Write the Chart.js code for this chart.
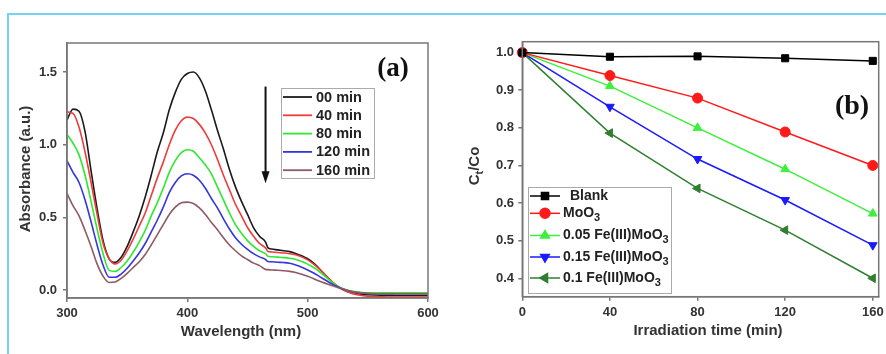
<!DOCTYPE html>
<html>
<head>
<meta charset="utf-8">
<script src="https://cdn.jsdelivr.net/npm/chart.js@4.4.1/dist/chart.umd.min.js"></script>
<style>
  html, body { margin: 0; padding: 0; background: #fff; }
  #wrap { position: relative; width: 886px; height: 354px; overflow: hidden; }
  #frame { position: absolute; left: 7px; top: 13px; width: 900px; height: 400px;
           border-top: 2px solid #74d3f3; border-left: 2px solid #74d3f3; }
  canvas { position: absolute; top: 0; }
  #chartA { left: 0; }
  #chartB { left: 443px; }
</style>
</head>
<body>
<div id="wrap">
  <div id="frame"></div>
  <canvas id="chartA" width="443" height="354"></canvas>
  <canvas id="chartB" width="443" height="354"></canvas>
</div>
<script>
// ---- panel (a): UV-vis spectra ----
const wavelength = [300,305,310,315,320,325,330,335,340,345,350,355,360,365,370,375,380,385,390,395,
  400,405,410,415,420,425,430,435,440,445,450,455,460,465,467,470,475,480,485,490,495,500,505,510,
  515,520,525,530,535,540,545,550,560,570,580,590,600];

const abs00 = [1.17,1.245,1.23,1.09,0.82,0.56,0.34,0.215,0.19,0.225,0.30,0.40,0.51,0.64,0.79,0.95,1.08,1.24,1.36,1.45,
  1.49,1.50,1.46,1.37,1.24,1.10,0.97,0.83,0.71,0.61,0.52,0.43,0.37,0.33,0.29,0.282,0.276,0.27,0.264,0.252,0.236,0.215,0.185,0.145,
  0.10,0.058,0.022,0.0,-0.015,-0.024,-0.03,-0.033,-0.036,-0.037,-0.038,-0.038,-0.038];
const abs40 = [1.225,1.215,1.12,0.95,0.74,0.52,0.32,0.215,0.18,0.205,0.27,0.35,0.44,0.53,0.65,0.77,0.88,1.00,1.10,1.165,
  1.19,1.18,1.14,1.08,1.00,0.90,0.79,0.69,0.59,0.51,0.43,0.37,0.32,0.29,0.265,0.262,0.258,0.255,0.25,0.242,0.228,0.207,0.178,0.142,
  0.10,0.06,0.025,0.0,-0.018,-0.03,-0.038,-0.043,-0.046,-0.048,-0.048,-0.048,-0.048];
const abs80 = [1.07,1.01,0.93,0.79,0.61,0.42,0.25,0.135,0.128,0.155,0.20,0.26,0.33,0.41,0.51,0.60,0.70,0.81,0.89,0.945,
  0.965,0.955,0.91,0.86,0.80,0.71,0.62,0.53,0.45,0.39,0.34,0.30,0.27,0.25,0.232,0.229,0.226,0.223,0.218,0.21,0.196,0.178,0.155,0.125,
  0.09,0.056,0.026,0.006,-0.006,-0.013,-0.017,-0.019,-0.02,-0.02,-0.02,-0.02,-0.02];
const abs120 = [0.89,0.81,0.74,0.62,0.47,0.31,0.17,0.088,0.088,0.11,0.15,0.20,0.255,0.32,0.40,0.48,0.57,0.67,0.74,0.785,
  0.80,0.79,0.755,0.70,0.63,0.565,0.49,0.42,0.36,0.315,0.28,0.25,0.228,0.21,0.196,0.194,0.191,0.189,0.184,0.172,0.157,0.138,0.117,0.092,
  0.067,0.042,0.022,0.005,-0.008,-0.016,-0.021,-0.024,-0.026,-0.026,-0.026,-0.026,-0.026];
const abs160 = [0.665,0.58,0.51,0.41,0.30,0.18,0.095,0.052,0.055,0.08,0.115,0.155,0.195,0.245,0.31,0.38,0.45,0.52,0.57,0.60,
  0.605,0.595,0.565,0.52,0.465,0.415,0.36,0.31,0.27,0.235,0.21,0.185,0.168,0.142,0.14,0.138,0.136,0.133,0.128,0.12,0.108,0.094,0.078,0.06,
  0.045,0.031,0.018,0.006,-0.006,-0.015,-0.021,-0.024,-0.026,-0.026,-0.026,-0.026,-0.026];

const specLabels = ["00 min", "40 min", "80 min", "120 min", "160 min"];
const specColors = ["#1a1a1a", "#ee3b3b", "#2ee82e", "#3535e0", "#8e5a63"];
const xTicksA = [300, 400, 500, 600];
const yTicksA = [0.0, 0.5, 1.0, 1.5];

// ---- panel (b): Ct/Co vs irradiation time ----
const times = [0, 40, 80, 120, 160];
const blank = [1.0, 0.989, 0.99, 0.985, 0.978];
const moo3 = [1.0, 0.939, 0.879, 0.789, 0.70];
const fe005 = [1.0, 0.911, 0.80, 0.69, 0.572];
const fe015 = [1.0, 0.856, 0.717, 0.608, 0.488];
const fe01 = [1.0, 0.786, 0.639, 0.528, 0.40];

const kinLabels = ["Blank", "MoO_3", "0.05 Fe(III)MoO_3", "0.15 Fe(III)MoO_3", "0.1 Fe(III)MoO_3"];
const kinColors = ["#000000", "#ff1a1a", "#3cf03c", "#1a1aff", "#2f7f2f"];
const kinStyles = ["rect", "circle", "triangle", "triangle", "triangle"];
const kinRotation = [0, 0, 0, 180, 270];
const xTicksB = [0, 40, 80, 120, 160];
const yTicksB = [0.4, 0.5, 0.6, 0.7, 0.8, 0.9, 1.0];

const FONT = '"Liberation Sans", Arial, sans-serif';
const AXIS = "#777";
const TXT = "#333";

function drawRich(ctx, str, x, y, size) {
  // "_x" marks a subscript character
  const segs = str.split(/(_\w)/).filter(Boolean);
  segs.forEach((s) => {
    if (s[0] === "_") {
      ctx.font = `bold ${Math.round(size * 0.75)}px ${FONT}`;
      ctx.fillText(s.slice(1), x, y + size * 0.32);
      x += ctx.measureText(s.slice(1)).width;
    } else {
      ctx.font = `bold ${size}px ${FONT}`;
      ctx.fillText(s, x, y);
      x += ctx.measureText(s).width;
    }
  });
  return x;
}

function richWidth(ctx, str, size) {
  let w = 0;
  str.split(/(_\w)/).filter(Boolean).forEach((s) => {
    if (s[0] === "_") {
      ctx.font = `bold ${Math.round(size * 0.75)}px ${FONT}`;
      w += ctx.measureText(s.slice(1)).width;
    } else {
      ctx.font = `bold ${size}px ${FONT}`;
      w += ctx.measureText(s).width;
    }
  });
  return w;
}

function scaleOpts(min, max, ticks, fixed, size, pad) {
  return {
    type: "linear",
    min: min,
    max: max,
    afterBuildTicks: (s) => { s.ticks = ticks.map((v) => ({ value: v })); },
    afterFit: (s) => {
      if (s.isHorizontal()) s.height = size; else s.width = size;
      s.paddingLeft = s.paddingRight = s.paddingTop = s.paddingBottom = 0;
    },
    grid: { drawOnChartArea: false, tickLength: 4, color: AXIS, lineWidth: 1.5 },
    border: { color: AXIS, width: 1.5 },
    ticks: {
      color: TXT,
      padding: pad,
      maxRotation: 0,
      font: { family: FONT, size: 13, weight: "bold" },
      callback: (v) => (fixed ? Number(v).toFixed(1) : v),
    },
  };
}

function frame(ctx, ca) {
  ctx.strokeStyle = AXIS;
  ctx.lineWidth = 1.5;
  ctx.strokeRect(ca.left, ca.top, ca.right - ca.left, ca.bottom - ca.top);
}

function rotatedTitle(ctx, str, cx, cy, size) {
  ctx.save();
  ctx.translate(cx, cy);
  ctx.rotate(-Math.PI / 2);
  ctx.fillStyle = TXT;
  ctx.textBaseline = "middle";
  ctx.textAlign = "left";
  const w = richWidth(ctx, str, size);
  drawRich(ctx, str, -w / 2, 0, size);
  ctx.restore();
}

const decorA = {
  id: "decorA",
  afterDraw(chart) {
    const { ctx, chartArea: ca } = chart;
    ctx.save();
    frame(ctx, ca);

    // axis titles
    ctx.fillStyle = TXT;
    ctx.font = `bold 15px ${FONT}`;
    ctx.textAlign = "center";
    ctx.textBaseline = "middle";
    ctx.fillText("Wavelength (nm)", 241, 332);
    rotatedTitle(ctx, "Absorbance (a.u.)", 26, 169, 15);

    // panel label
    ctx.fillStyle = "#111";
    ctx.font = `bold 27px "Liberation Serif", "Times New Roman", serif`;
    ctx.fillText("(a)", 393, 69);

    // arrow
    const x = chart.scales.x.getPixelForValue(465);
    const y0 = chart.scales.y.getPixelForValue(1.4);
    const y1 = chart.scales.y.getPixelForValue(0.735);
    ctx.strokeStyle = "#111";
    ctx.lineWidth = 2;
    ctx.beginPath();
    ctx.moveTo(x, y0);
    ctx.lineTo(x, y1 - 10);
    ctx.stroke();
    ctx.fillStyle = "#111";
    ctx.beginPath();
    ctx.moveTo(x - 4, y1 - 12);
    ctx.lineTo(x + 4, y1 - 12);
    ctx.lineTo(x, y1);
    ctx.closePath();
    ctx.fill();

    // legend
    ctx.strokeStyle = "#aaa";
    ctx.lineWidth = 1;
    ctx.strokeRect(281.5, 88.5, 93, 90);
    ctx.textAlign = "left";
    specLabels.forEach((lab, i) => {
      const yy = 97 + i * 18.3;
      ctx.strokeStyle = specColors[i];
      ctx.lineWidth = 1.8;
      ctx.beginPath();
      ctx.moveTo(283, yy);
      ctx.lineTo(312, yy);
      ctx.stroke();
      ctx.fillStyle = "#222";
      ctx.font = `bold 14.5px ${FONT}`;
      ctx.fillText(lab, 316, yy + 0.5);
    });
    ctx.restore();
  },
};

const decorB = {
  id: "decorB",
  afterDraw(chart) {
    const { ctx, chartArea: ca } = chart;
    ctx.save();
    frame(ctx, ca);

    ctx.fillStyle = TXT;
    ctx.font = `bold 15px ${FONT}`;
    ctx.textAlign = "center";
    ctx.textBaseline = "middle";
    ctx.fillText("Irradiation time (min)", 265, 331);
    rotatedTitle(ctx, "C_t/Co", 32, 166, 15);

    ctx.fillStyle = "#111";
    ctx.font = `bold 28px "Liberation Serif", "Times New Roman", serif`;
    ctx.fillText("(b)", 409, 107);

    // legend
    ctx.strokeStyle = "#aaa";
    ctx.lineWidth = 1;
    ctx.strokeRect(85.5, 187.5, 143, 106);
    const rows = [196, 213.3, 235.5, 257, 278];
    ctx.textAlign = "left";
    kinLabels.forEach((lab, i) => {
      const yy = rows[i];
      ctx.strokeStyle = kinColors[i];
      ctx.fillStyle = kinColors[i];
      ctx.lineWidth = 1.5;
      ctx.beginPath();
      ctx.moveTo(87, yy);
      ctx.lineTo(117, yy);
      ctx.stroke();
      Chart.helpers.drawPoint(ctx, {
        pointStyle: kinStyles[i], rotation: kinRotation[i], radius: 5, borderWidth: 1,
      }, 102, yy);
      ctx.fillStyle = "#222";
      drawRich(ctx, lab, i === 0 ? 127 : 120, yy, 14);
    });
    ctx.restore();
  },
};

new Chart(document.getElementById("chartA"), {
  type: "line",
  data: {
    datasets: [abs00, abs40, abs80, abs120, abs160].map((s, i) => ({
      label: specLabels[i],
      data: wavelength.map((w, j) => ({ x: w, y: s[j] })),
      borderColor: specColors[i],
      borderWidth: 1.6,
      pointRadius: 0,
      cubicInterpolationMode: "monotone",
    })).reverse(),
  },
  options: {
    responsive: false,
    animation: false,
    layout: { autoPadding: false, padding: { left: 0, top: 43, right: 15, bottom: 0 } },
    plugins: { legend: { display: false }, tooltip: { enabled: false } },
    scales: {
      x: scaleOpts(300, 600, xTicksA, false, 56, 4),
      y: scaleOpts(-0.055, 1.70, yTicksA, true, 67, 6),
    },
  },
  plugins: [decorA],
});

new Chart(document.getElementById("chartB"), {
  type: "line",
  data: {
    datasets: [blank, moo3, fe005, fe015, fe01].map((s, i) => ({
      label: kinLabels[i],
      data: times.map((t, j) => ({ x: t, y: s[j] })),
      borderColor: kinColors[i],
      backgroundColor: kinColors[i],
      borderWidth: 1.5,
      pointStyle: kinStyles[i],
      pointRotation: kinRotation[i],
      pointRadius: 5,
      pointBorderWidth: 1,
      tension: 0,
      clip: false,
    })),
  },
  options: {
    responsive: false,
    animation: false,
    layout: { autoPadding: false, padding: { left: 0, top: 41.7, right: 7.3, bottom: 0 } },
    plugins: { legend: { display: false }, tooltip: { enabled: false } },
    scales: {
      x: scaleOpts(0, 162.7, xTicksB, false, 57.3, 4),
      y: scaleOpts(0.351, 1.029, yTicksB, true, 79.3, 4.3),
    },
  },
  plugins: [decorB],
});
</script>
</body>
</html>
